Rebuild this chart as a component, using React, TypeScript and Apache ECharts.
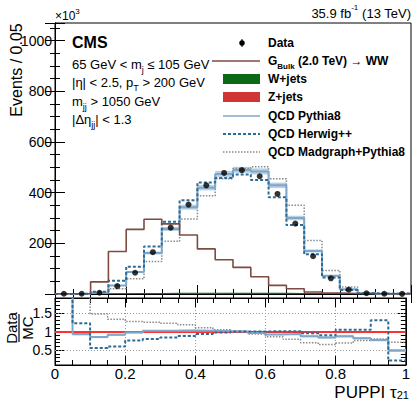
import React, { useEffect, useRef } from 'react';
import * as echarts from 'echarts';

// PUPPI tau21 bin edges (bin width 0.05)
const binEdges = [0, 0.05, 0.1, 0.15, 0.2, 0.25, 0.3, 0.35, 0.4, 0.45, 0.5, 0.55, 0.6, 0.65, 0.7, 0.75, 0.8, 0.85, 0.9, 0.95, 1.0];

// Events / 0.05 (x10^3)
const dataCounts = [1, 1, 5, 31, 84, 165, 262, 353, 429, 478, 489, 465, 395, 278, 149, 62, 17, 3, 1, 0.5];
const qcdPythia = [0.2, 1.1, 6, 34, 87, 162, 257, 343, 420, 474, 490, 484, 429, 300, 170, 72, 19, 4, 1.2, 1];
const pythiaUnc = [0.1, 0.2, 0.6, 2, 4, 6, 8, 10, 11, 12, 12, 12, 11, 9, 6, 3, 1, 0.4, 0.2, 0.2];
const qcdHerwig = [0.2, 0.8, 9, 52, 108, 188, 285, 370, 440, 458, 472, 450, 382, 272, 157, 65, 16, 3, 0.8, 2];
const qcdMadgraph = [0.1, 0.4, 3.5, 21, 60, 128, 208, 296, 388, 455, 496, 502, 455, 350, 211, 93, 28, 5, 1.3, 0.8];
const gBulk = [1, 2, 48, 168, 255, 295, 277, 233, 178, 135, 105, 68, 34, 21, 8, 4, 2, 1, 0.5, 0.3];
const wJets = [0.5, 1, 2, 3, 4, 4, 5, 5, 5, 5, 5, 5, 5, 4, 4, 3, 2, 1, 1, 0.5];
const zJets = [0.2, 0.5, 1, 1.5, 2, 2, 2, 2, 2, 2, 2, 2, 2, 2, 2, 1.5, 1, 0.5, 0.5, 0.3];

// Data / MC ratios (values > 1.9 are off scale)
const ratioPythia = [5, 0.93, 0.85, 0.91, 0.97, 1.02, 1.02, 1.03, 1.02, 1.01, 1.0, 0.96, 0.92, 0.93, 0.87, 0.84, 0.87, 0.82, 0.77, 0.49];
const ratioPythiaUnc = [0, 0.04, 0.03, 0.03, 0.025, 0.02, 0.02, 0.02, 0.02, 0.02, 0.02, 0.02, 0.02, 0.02, 0.025, 0.03, 0.03, 0.03, 0.035, 0.04];
const ratioHerwig = [5, 1.22, 0.56, 0.6, 0.76, 0.8, 0.84, 0.88, 0.93, 0.97, 1.0, 1.0, 1.01, 1.01, 0.95, 0.9, 1.05, 1.05, 1.3, 0.22];
const ratioMadgraph = [5, 5, 1.47, 1.33, 1.27, 1.25, 1.22, 1.18, 1.1, 1.05, 1.0, 0.93, 0.86, 0.79, 0.7, 0.65, 0.69, 0.76, 0.8, 0.71];

const yTicksMain = [0, 200, 400, 600, 800, 1000];
const ratioTicks = [0.5, 1, 1.5];
const xTicks = [0, 0.2, 0.4, 0.6, 0.8, 1];

const FONT = '"Liberation Sans", Arial, Helvetica, sans-serif';
const C_BULK = '#7d4b42';
const C_PYTHIA = '#7fa7c9';
const C_BAND = '#b9d1e5';
const C_HERWIG = '#2d6b96';
const C_MAD = '#8a8a8a';
const C_W = '#0b6a13';
const C_Z = '#d13434';

const stepData = (vals: number[]) =>
  vals.map((v, i) => [binEdges[i], v]).concat([[binEdges[binEdges.length - 1], vals[vals.length - 1]]]);

const bandRender = (fill: string) => (params: any, api: any) => {
  const a = api.coord([api.value(0), api.value(3)]);
  const b = api.coord([api.value(1), api.value(2)]);
  return {
    type: 'rect',
    shape: { x: a[0], y: a[1], width: b[0] - a[0], height: Math.max(b[1] - a[1], 1) },
    style: { fill },
  };
};

export default function App() {
  const ref = useRef<HTMLDivElement>(null);
  useEffect(() => {
    const chart = echarts.init(ref.current!, null, { renderer: 'svg', width: 413, height: 402 });

    const mainBand = qcdPythia.map((v, i) => [binEdges[i], binEdges[i + 1], v - pythiaUnc[i], v + pythiaUnc[i]]);
    const ratioBand = ratioPythia
      .map((r, i) => [binEdges[i], binEdges[i + 1], r - ratioPythiaUnc[i], r + ratioPythiaUnc[i]])
      .filter((d) => d[3] <= 1.9);
    const centers = dataCounts.map((_, i) => (binEdges[i] + binEdges[i + 1]) / 2);

    const baseX = {
      type: 'value', min: 0, max: 1, interval: 0.2,
      axisLine: { show: true, lineStyle: { color: '#000', width: 1 } },
      axisTick: { show: true, inside: true, length: 9, lineStyle: { color: '#000' } },
      minorTick: { show: true, splitNumber: 4, length: 5, lineStyle: { color: '#000' } },
      splitLine: { show: false },
      axisLabel: { show: false },
    };

    const tickTxt = { color: '#000', fontSize: 14, fontFamily: FONT };

    const option: any = {
      animation: false,
      backgroundColor: '#fff',
      textStyle: { fontFamily: FONT },
      grid: [
        { left: 55, top: 23, width: 356, height: 271, show: true, borderColor: '#000', borderWidth: 1 },
        { left: 55, top: 298, width: 356, height: 67, show: true, borderColor: '#000', borderWidth: 1 },
      ],
      xAxis: [
        { ...baseX, gridIndex: 0, position: 'bottom' },
        { ...baseX, gridIndex: 0, position: 'top' },
        {
          ...baseX, gridIndex: 1, position: 'bottom',
          axisLabel: { show: true, ...tickTxt, fontSize: 15, margin: 1, formatter: (v: number) => (xTicks.includes(v) ? String(v) : '') },
          splitLine: { show: true, lineStyle: { color: '#999', type: [1, 2], width: 1 } },
        },
        { ...baseX, gridIndex: 1, position: 'top' },
      ],
      yAxis: [
        {
          type: 'value', gridIndex: 0, position: 'left', min: 0, max: 1070, interval: 200,
          axisLine: { show: true, lineStyle: { color: '#000' } },
          axisTick: { show: true, inside: true, length: 10, lineStyle: { color: '#000' } },
          minorTick: { show: true, splitNumber: 4, length: 5, lineStyle: { color: '#000' } },
          splitLine: { show: false },
          axisLabel: { ...tickTxt, margin: 3, showMaxLabel: false, formatter: (v: number) => (yTicksMain.includes(v) && v > 0 ? String(v) : '') },
        },
        {
          type: 'value', gridIndex: 0, position: 'right', min: 0, max: 1070, interval: 200,
          axisLine: { show: true, lineStyle: { color: '#000' } },
          axisTick: { show: true, inside: true, length: 10, lineStyle: { color: '#000' } },
          minorTick: { show: true, splitNumber: 4, length: 5, lineStyle: { color: '#000' } },
          splitLine: { show: false },
          axisLabel: { show: false },
        },
        {
          type: 'value', gridIndex: 1, position: 'left', min: 0.1, max: 1.9,
          axisLine: { show: true, lineStyle: { color: '#000' } },
          axisTick: { show: true, inside: true, length: 9, customValues: ratioTicks, lineStyle: { color: '#000' } },
          splitLine: { show: false },
          axisLabel: { ...tickTxt, margin: 3, customValues: ratioTicks, formatter: (v: number) => String(v) },
        },
        {
          type: 'value', gridIndex: 1, position: 'left', min: 0.1, max: 1.9, interval: 0.1,
          axisLine: { show: false },
          axisTick: { show: true, inside: true, length: 5, lineStyle: { color: '#000' } },
          splitLine: { show: false },
          axisLabel: { show: false },
        },
        {
          type: 'value', gridIndex: 1, position: 'right', min: 0.1, max: 1.9,
          axisLine: { show: true, lineStyle: { color: '#000' } },
          axisTick: { show: true, inside: true, length: 9, customValues: ratioTicks, lineStyle: { color: '#000' } },
          splitLine: { show: false },
          axisLabel: { show: false },
        },
        {
          type: 'value', gridIndex: 1, position: 'right', min: 0.1, max: 1.9, interval: 0.1,
          axisLine: { show: false },
          axisTick: { show: true, inside: true, length: 5, lineStyle: { color: '#000' } },
          splitLine: { show: false },
          axisLabel: { show: false },
        },
      ],
      series: [
        {
          type: 'line', name: 'W+jets', xAxisIndex: 0, yAxisIndex: 0, stack: 'bkg', step: 'end', symbol: 'none',
          data: stepData(wJets), lineStyle: { width: 0 }, areaStyle: { color: C_W, opacity: 1 }, z: 2,
        },
        {
          type: 'line', name: 'Z+jets', xAxisIndex: 0, yAxisIndex: 0, stack: 'bkg', step: 'end', symbol: 'none',
          data: stepData(zJets), lineStyle: { width: 0 }, areaStyle: { color: C_Z, opacity: 1 }, z: 2,
        },
        {
          type: 'custom', name: 'band', xAxisIndex: 0, yAxisIndex: 0, data: mainBand,
          renderItem: bandRender(C_BAND), z: 3, silent: true,
        },
        {
          type: 'line', name: 'Madgraph', xAxisIndex: 0, yAxisIndex: 0, step: 'end', symbol: 'none',
          data: stepData(qcdMadgraph), lineStyle: { color: C_MAD, width: 1.5, type: [1.5, 1.5] }, z: 4,
        },
        {
          type: 'line', name: 'Pythia', xAxisIndex: 0, yAxisIndex: 0, step: 'end', symbol: 'none',
          data: stepData(qcdPythia), lineStyle: { color: C_PYTHIA, width: 2 }, z: 5,
        },
        {
          type: 'line', name: 'Herwig', xAxisIndex: 0, yAxisIndex: 0, step: 'end', symbol: 'none',
          data: stepData(qcdHerwig), lineStyle: { color: C_HERWIG, width: 2, type: [3, 2] }, z: 6,
        },
        {
          type: 'line', name: 'GBulk', xAxisIndex: 0, yAxisIndex: 0, step: 'end', symbol: 'none',
          data: stepData(gBulk), lineStyle: { color: C_BULK, width: 1.6 }, z: 6,
        },
        {
          type: 'scatter', name: 'Data', xAxisIndex: 0, yAxisIndex: 0, symbol: 'circle', symbolSize: 6,
          data: centers.map((c, i) => [c, dataCounts[i]]), itemStyle: { color: '#000' }, z: 10,
        },
        {
          type: 'custom', name: 'rband', xAxisIndex: 2, yAxisIndex: 2, data: ratioBand,
          renderItem: bandRender(C_BAND), z: 3, silent: true,
        },
        {
          type: 'line', name: 'rMad', xAxisIndex: 2, yAxisIndex: 2, step: 'end', symbol: 'none',
          data: stepData(ratioMadgraph), lineStyle: { color: C_MAD, width: 1.5, type: [1.5, 1.5] }, z: 4,
          markLine: {
            silent: true, symbol: 'none', label: { show: false },
            lineStyle: { color: '#999', type: [1, 2], width: 1 },
            data: [{ yAxis: 0.5 }, { yAxis: 1.5 }, { yAxis: 1 }],
          },
        },
        {
          type: 'line', name: 'rPythia', xAxisIndex: 2, yAxisIndex: 2, step: 'end', symbol: 'none',
          data: stepData(ratioPythia), lineStyle: { color: C_PYTHIA, width: 2 }, z: 5,
        },
        {
          type: 'line', name: 'rHerwig', xAxisIndex: 2, yAxisIndex: 2, step: 'end', symbol: 'none',
          data: stepData(ratioHerwig), lineStyle: { color: C_HERWIG, width: 2, type: [3, 2] }, z: 6,
          markLine: {
            silent: true, symbol: 'none', label: { show: false },
            lineStyle: { color: '#ff3030', type: 'solid', width: 2 },
            data: [{ yAxis: 1 }],
          },
        },
      ],
      graphic: [
        {
          type: 'text', x: 16, y: 70, rotation: Math.PI / 2,
          style: { text: 'Events / 0.05', fontSize: 16, fontFamily: FONT, fill: '#000', align: 'center', verticalAlign: 'middle' },
        },
        {
          type: 'text', x: 11, y: 328, rotation: Math.PI / 2,
          style: { text: 'Data', fontSize: 15, fontFamily: FONT, fill: '#000', align: 'center', verticalAlign: 'middle' },
        },
        { type: 'line', shape: { x1: 19, y1: 314, x2: 19, y2: 342 }, style: { stroke: '#000', lineWidth: 1.2 } },
        {
          type: 'text', x: 27, y: 328, rotation: Math.PI / 2,
          style: { text: 'MC', fontSize: 15, fontFamily: FONT, fill: '#000', align: 'center', verticalAlign: 'middle' },
        },
        {
          type: 'text', x: 409, y: 392,
          style: {
            text: 'PUPPI τ{s|21}', fontSize: 17, fontFamily: FONT, fill: '#000', align: 'right', verticalAlign: 'middle',
            rich: { s: { fontSize: 11, verticalAlign: 'bottom', lineHeight: 17, fontFamily: FONT } }, lineHeight: 17,
          },
        },
        {
          type: 'text', x: 55, y: 16,
          style: {
            text: '×10{p|3}', fontSize: 12, fontFamily: FONT, fill: '#000', align: 'left', verticalAlign: 'middle',
            rich: { p: { fontSize: 8, verticalAlign: 'top', lineHeight: 18 } }, lineHeight: 18,
          },
        },
        {
          type: 'text', x: 411, y: 13,
          style: {
            text: '35.9 fb{p|-1} (13 TeV)', fontSize: 13, fontFamily: FONT, fill: '#000', align: 'right', verticalAlign: 'middle',
            rich: { p: { fontSize: 8, verticalAlign: 'top', lineHeight: 20 } }, lineHeight: 20,
          },
        },
        {
          type: 'text', x: 72, y: 42,
          style: { text: 'CMS', fontSize: 16, fontWeight: 'bold', fontFamily: FONT, fill: '#000', align: 'left', verticalAlign: 'middle' },
        },
        ...[
          ['65 GeV < m{s|j} ≤ 105 GeV', 64],
          ['|η| < 2.5, p{s|T} > 200 GeV', 82],
          ['m{s|jj} > 1050 GeV', 101],
          ['|Δη{s|jj}| < 1.3', 119],
        ].map(([t, y]) => ({
          type: 'text', x: 72, y,
          style: {
            text: t, fontSize: 13, fontFamily: FONT, fill: '#000', align: 'left', verticalAlign: 'middle', lineHeight: 20,
            rich: { s: { fontSize: 9, verticalAlign: 'bottom', lineHeight: 20 } },
          },
        })),
        { type: 'line', shape: { x1: 242, y1: 39, x2: 242, y2: 47 }, style: { stroke: '#000', lineWidth: 1 } },
        { type: 'circle', shape: { cx: 242, cy: 43, r: 2.8 }, style: { fill: '#000' } },
        { type: 'line', shape: { x1: 212, y1: 61, x2: 260, y2: 61 }, style: { stroke: C_BULK, lineWidth: 1.6 } },
        { type: 'rect', shape: { x: 223, y: 74, width: 37, height: 10 }, style: { fill: C_W } },
        { type: 'rect', shape: { x: 223, y: 92, width: 37, height: 10 }, style: { fill: C_Z } },
        { type: 'line', shape: { x1: 223, y1: 116, x2: 260, y2: 116 }, style: { stroke: C_PYTHIA, lineWidth: 1.5 } },
        { type: 'line', shape: { x1: 223, y1: 134, x2: 260, y2: 134 }, style: { stroke: C_HERWIG, lineWidth: 2, lineDash: [3, 2] } },
        { type: 'line', shape: { x1: 223, y1: 152, x2: 260, y2: 152 }, style: { stroke: C_MAD, lineWidth: 1.5, lineDash: [1.5, 1.5] } },
        ...[
          ['Data', 43],
          ['G{s|Bulk} (2.0 TeV) → WW', 61],
          ['W+jets', 79],
          ['Z+jets', 97],
          ['QCD Pythia8', 116],
          ['QCD Herwig++', 134],
          ['QCD Madgraph+Pythia8', 152],
        ].map(([t, y]) => ({
          type: 'text', x: 268, y,
          style: {
            text: t, fontSize: 12, fontWeight: 'bold', fontFamily: FONT, fill: '#000', align: 'left', verticalAlign: 'middle', lineHeight: 18,
            rich: { s: { fontSize: 8, fontWeight: 'bold', verticalAlign: 'bottom', lineHeight: 18 } },
          },
        })),
      ],
    };

    chart.setOption(option);
    return () => chart.dispose();
  }, []);

  return <div ref={ref} style={{ position: 'fixed', left: 0, top: 0, width: 413, height: 402 }} />;
}
